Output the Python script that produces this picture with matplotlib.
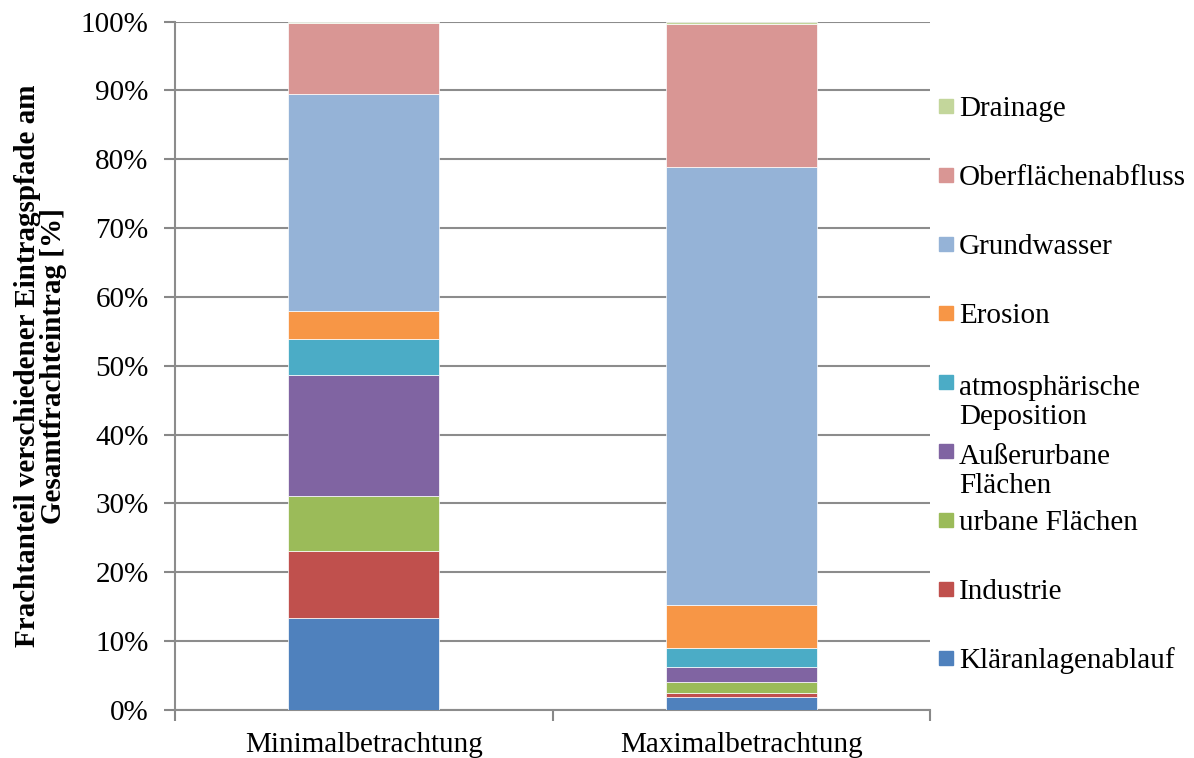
import numpy as np
import matplotlib
matplotlib.use('Agg')
import matplotlib.pyplot as plt
from matplotlib.patches import Rectangle

plt.rcParams['font.family'] = ['Liberation Serif', 'DejaVu Serif']

# Szenarien
categories = ['Minimalbetrachtung', 'Maximalbetrachtung']

# Eintragspfade (von unten nach oben gestapelt), Anteile in %
series_names = ['Kläranlagenablauf', 'Industrie', 'urbane Flächen',
                'Außerurbane\nFlächen', 'atmosphärische\nDeposition', 'Erosion',
                'Grundwasser', 'Oberflächenabfluss', 'Drainage']
minimal = [13.3, 9.8, 7.9, 17.7, 5.2, 4.1, 31.5, 10.3, 0.2]
maximal = [1.9, 0.5, 1.6, 2.2, 2.7, 6.3, 63.7, 20.7, 0.4]
colors = ['#4F81BD', '#C0504D', '#9BBB59', '#8064A2', '#4BACC6',
          '#F79646', '#95B3D7', '#D99694', '#C3D69B']

yticks = np.arange(0, 101, 10)

fig = plt.figure(figsize=(11.94, 7.58), dpi=100)
ax = fig.add_axes([0.1466, 0.0637, 0.6325, 0.9077])

x = np.arange(len(categories))
bottom = np.zeros(len(categories))
for name, vmin, vmax, c in zip(series_names, minimal, maximal, colors):
    vals = np.array([vmin, vmax])
    ax.bar(x, vals, width=0.4, bottom=bottom, color=c,
           edgecolor='#ffffff', linewidth=0.5, zorder=3)
    bottom += vals

ax.set_xlim(-0.5, 1.5)
ax.set_ylim(0, 100)
ax.set_yticks(yticks)
ax.set_yticklabels([f'{v}%' for v in yticks], fontsize=21)
ax.set_xticks(x)
ax.set_xticklabels(categories, fontsize=21)
ax.set_xticks([-0.5, 0.5, 1.5], minor=True)
ax.tick_params(axis='x', which='major', length=0, pad=16)
ax.tick_params(axis='x', which='minor', length=8, color='#888888', width=1.5)
ax.tick_params(axis='y', length=8, color='#888888', width=1.5, pad=11)

ax.grid(axis='y', color='#8c8c8c', linewidth=1.5, zorder=0)
for s in ['top', 'right']:
    ax.spines[s].set_visible(False)
for s in ['left', 'bottom']:
    ax.spines[s].set_color('#8c8c8c')
    ax.spines[s].set_linewidth(1.5)

ax.set_ylabel('Frachtanteil verschiedener Eintragspfade am\nGesamtfrachteintrag [%]',
              fontsize=21, fontweight='bold', linespacing=0.95)
ax.yaxis.set_label_coords(-0.143, 0.5)

# Legende (oben Drainage, unten Kläranlagenablauf)
H = 758.0
W = 1194.0
top_px = 106.0
step_px = 69.0
line_px = 32.0
for i, (name, c) in enumerate(zip(series_names[::-1], colors[::-1])):
    yc = top_px + i * step_px
    extra = name.count('\n') * line_px
    fig.patches.append(Rectangle((939 / W, 1 - (yc + 7) / H), 14 / W, 14 / H,
                                 transform=fig.transFigure, color=c))
    fig.text(959 / W, 1 - (yc + 10 + extra) / H, name, fontsize=21,
             va='baseline', ha='left', linespacing=1.17)

fig.savefig('out.png', dpi=100)
